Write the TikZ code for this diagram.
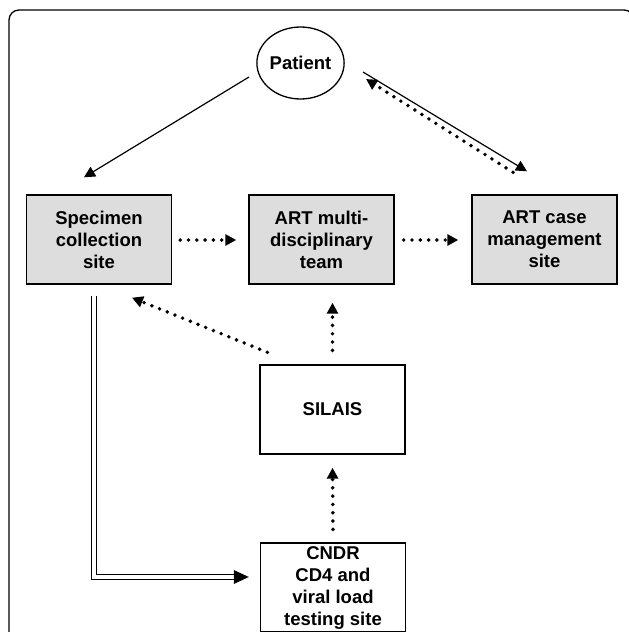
\documentclass[tikz,border=0pt]{standalone}
\usepackage{fontspec}
\setmainfont{Liberation Sans}
\usetikzlibrary{arrows.meta,calc,shapes.geometric}
\definecolor{boxgray}{RGB}{221,221,221}
\begin{document}
\begin{tikzpicture}[x=1pt,y=-1pt,
  lbl/.style={font=\bfseries\fontsize{18.5}{22}\selectfont, align=center},
  box/.style={lbl, draw, line width=1.4pt, minimum width=145pt, minimum height=89pt, inner sep=0pt},
  greybox/.style={box, fill=boxgray},
  tipstyle/.style={-{Triangle[length=11pt,width=11pt]}},
  solidarrow/.style={line width=1.2pt, tipstyle},
  dotarrow/.style={line width=3.9pt, line cap=round, dash pattern=on 0pt off 8.3pt, tipstyle}
]
\useasboundingbox (0,0) rectangle (629,632);
\clip (0,0) rectangle (629,632);
\draw[line width=1.3pt, rounded corners=10pt] (9,10) rectangle (634,700);

\node[lbl, draw, ellipse, line width=1.3pt, minimum width=87pt, minimum height=72pt, inner sep=0pt] (patient) at (300.5,63) {Patient};
\node[greybox] (spec) at (99,239.5) {Specimen\\collection\\site};
\node[greybox] (multi) at (321.5,239.5) {ART multi-\\disciplinary\\team};
\node[greybox] (case) at (544.5,239.5) {ART case\\management\\site};
\node[box] (silais) at (332.5,409.5) {SILAIS};
\node[box] (cndr) at (333,587.5) {CNDR\\CD4 and\\viral load\\testing site};

\draw[solidarrow] ($(patient.center)+(-51.5,14)$) -- ($(spec.north)+(-15,-17)$);
\draw[solidarrow] ($(patient.center)+(62.5,9)$) -- ($(case.north)+(-17.5,-23)$);
\draw[dotarrow] ($(case.north)+(-31.5,-22)$) -- ($(patient.center)+(65.5,16)$);
\draw[dotarrow] ($(spec.east)+(8,0.5)$) -- ($(multi.west)+(-12,0.5)$);
\draw[dotarrow] ($(multi.east)+(9,0.5)$) -- ($(case.west)+(-13,0.5)$);
\draw[dotarrow] ($(silais.north)+(0,-14)$) -- ($(silais.north |- multi.south)+(0,18)$);
\draw[dotarrow] ($(silais.north west)+(8,-12)$) -- ($(spec.south)+(33,13)$);
\draw[dotarrow] ($(cndr.north)+(0,-13)$) -- ($(silais.south)+(0,13)$);

\draw[line width=1.1pt, double=white, double distance=3.4pt] ($(spec.south)+(-5,11)$) |- ($(cndr.west)+(-26,-10.5)$);
\fill ($(cndr.west)+(-11,-10.5)$) -- ++(-15,-7) -- ++(0,14) -- cycle;
\end{tikzpicture}
\end{document}
